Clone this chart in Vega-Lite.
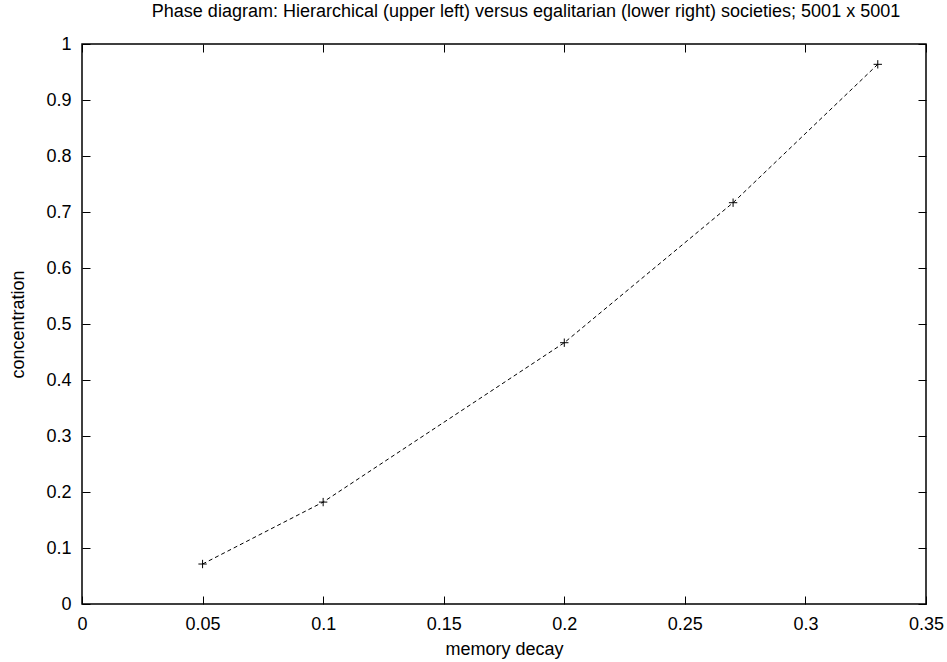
{
  "$schema": "https://vega.github.io/schema/vega-lite/v6.json",
  "width": 844,
  "height": 560,
  "autosize": {"type": "none"},
  "padding": {"left": 82, "top": 44, "right": 21, "bottom": 58},
  "background": "white",
  "title": {
    "text": "Phase diagram: Hierarchical (upper left) versus egalitarian (lower right) societies; 5001 x 5001",
    "font": "Liberation Sans",
    "fontSize": 18,
    "fontWeight": "normal",
    "color": "black",
    "anchor": "middle",
    "dx": 22,
    "offset": 14
  },
  "config": {
    "view": {"stroke": "black", "strokeWidth": 1.5},
    "axis": {
      "domain": false,
      "grid": false,
      "tickColor": "black",
      "tickSize": -8,
      "tickWidth": 1,
      "labelFont": "Liberation Sans",
      "labelFontSize": 18,
      "labelColor": "black",
      "titleFont": "Liberation Sans",
      "titleFontSize": 18,
      "titleFontWeight": "normal",
      "titleColor": "black"
    }
  },
  "data": {
    "values": [
      {"decay": 0.05, "conc": 0.0714},
      {"decay": 0.1, "conc": 0.182},
      {"decay": 0.2, "conc": 0.4666},
      {"decay": 0.27, "conc": 0.7166},
      {"decay": 0.33, "conc": 0.9637}
    ]
  },
  "layer": [
    {
      "mark": {"type": "line", "stroke": "black", "strokeWidth": 1, "strokeDash": [4, 3]},
      "encoding": {
        "x": {
          "field": "decay", "type": "quantitative",
          "scale": {"domain": [0, 0.35], "nice": false, "zero": false},
          "axis": {"title": "memory decay", "format": "~g", "values": [0, 0.05, 0.1, 0.15, 0.2, 0.25, 0.3, 0.35], "labelPadding": 19, "titlePadding": 7, "labelFlush": false, "labelOverlap": false}
        },
        "y": {
          "field": "conc", "type": "quantitative",
          "scale": {"domain": [0, 1], "nice": false, "zero": false},
          "axis": {"title": "concentration", "format": "~g", "values": [0, 0.1, 0.2, 0.3, 0.4, 0.5, 0.6, 0.7, 0.8, 0.9, 1], "labelPadding": 19, "titlePadding": 18, "labelFlush": false, "labelOverlap": false}
        }
      }
    },
    {
      "mark": {"type": "point", "shape": "M-1,0L1,0M0,-1L0,1", "size": 70, "filled": false, "stroke": "black", "strokeWidth": 1, "opacity": 1},
      "encoding": {
        "x": {
          "field": "decay", "type": "quantitative",
          "axis": {"orient": "top", "title": null, "labels": false, "values": [0, 0.05, 0.1, 0.15, 0.2, 0.25, 0.3, 0.35]}
        },
        "y": {
          "field": "conc", "type": "quantitative",
          "axis": {"orient": "right", "title": null, "labels": false, "values": [0, 0.1, 0.2, 0.3, 0.4, 0.5, 0.6, 0.7, 0.8, 0.9, 1]}
        }
      }
    }
  ],
  "resolve": {"axis": {"x": "independent", "y": "independent"}}
}
